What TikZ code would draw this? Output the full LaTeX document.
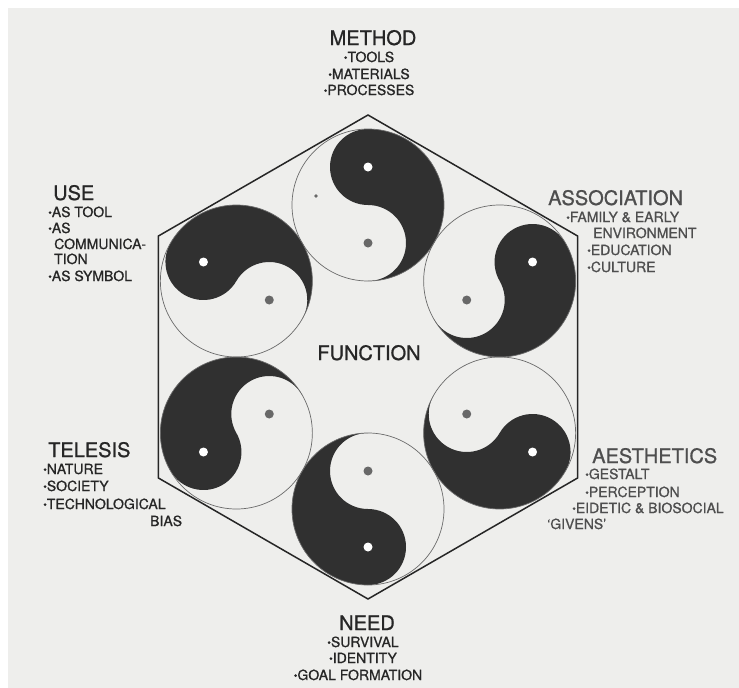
\documentclass[tikz,border=0pt]{standalone}
\usepackage{fontspec}
\setmainfont{TeX Gyre Heros}
\newfontfamily\printfont{TeX Gyre Heros}[FakeBold=0.9]
\usepackage{tikz}
\usepackage{graphicx}
\definecolor{paper}{HTML}{EEEEEC}
\definecolor{ink}{HTML}{262626}
\definecolor{softink}{HTML}{4E4E4E}
\definecolor{yindark}{HTML}{303030}
\definecolor{rimgray}{HTML}{6A6A6A}
\definecolor{dotgray}{HTML}{686868}
\newcommand{\bul}{\raisebox{0.1ex}{\scalebox{0.75}{•}}}

\tikzset{
  title/.style={font=\printfont\fontsize{20}{24}\selectfont, text=ink, inner sep=0pt},
  item/.style={font=\printfont\fontsize{14}{16}\selectfont, text=ink, inner sep=0pt},
  hexline/.style={line width=1.5pt, draw=ink, line join=miter},
  rim/.style={line width=0.7pt, draw=rimgray}
}

\begin{document}
\begin{tikzpicture}[x=1pt, y=1pt]

% ---- paper ----
\fill[white] (0,0) rectangle (739,-688);
\fill[paper] (8,-8) rectangle (739,-688);
\useasboundingbox (0,0) rectangle (739,-688);

\coordinate (cen) at (368,-357);

% ---- hexagon ----
\draw[hexline] ([shift={(90:242pt)}]cen)
  \foreach \a in {30,-30,-90,-150,150} { -- ([shift={(\a:242pt)}]cen) } -- cycle;

% ---- six yin-yang discs, head pointing outwards ----
\foreach \a in {90,30,-30,-90,-150,150} {
  \coordinate (yy\a) at ([shift={(\a:152pt)}]cen);
  \fill[yindark] ([shift={(\a:76pt)}]yy\a)
    arc[start angle=\a, end angle=\a-180, radius=76pt]
    arc[start angle=\a+180, end angle=\a+360, radius=38pt]
    arc[start angle=\a+180, end angle=\a, radius=38pt] -- cycle;
  \draw[rim] (yy\a) circle[radius=76pt];
  \fill[white] ([shift={(\a:38pt)}]yy\a) circle[radius=4.5pt];
  \fill[dotgray] ([shift={({\a+180}:38pt)}]yy\a) circle[radius=4.5pt];
}
% small speck in the top disc
\fill[dotgray] (316,-196) circle[radius=1.8pt];

% ---- centre ----
\node[title, anchor=base] (func) at (369,-360) {FUNCTION};

% ---- Method (top) ----
\node[title, anchor=base] (meth) at (373,-45) {METHOD};
\foreach \lab/\yp [count=\i] in {\bul TOOLS/62, \bul MATERIALS/79, \bul PROCESSES/95}
  \node[item, anchor=base] (meth\i) at (369,-\yp) {\lab};

% ---- Association (upper right) ----
\node[title, text=softink, anchor=base west] (assoc) at (548,-205) {ASSOCIATION};
\foreach \lab/\xp/\yp [count=\i] in {\bul FAMILY \& EARLY/566/222, ENVIRONMENT/593/238,
    \bul EDUCATION/587/255, \bul CULTURE/587/272}
  \node[item, text=softink, anchor=base west] (assoc\i) at (\xp,-\yp) {\lab};

% ---- Aesthetics (lower right) ----
\node[title, text=softink, anchor=base west] (aest) at (592,-463) {AESTHETICS};
\foreach \lab/\xp/\yp [count=\i] in {\bul GESTALT/585/479, \bul PERCEPTION/585/497,
    \bul EIDETIC \& BIOSOCIAL/572/513, ‘GIVENS’/547/529}
  \node[item, text=softink, anchor=base west] (aest\i) at (\xp,-\yp) {\lab};

% ---- Need (bottom) ----
\node[title, anchor=base] (need) at (367,-630) {NEED};
\foreach \lab/\xp/\yp [count=\i] in {\bul SURVIVAL/363/647, \bul IDENTITY/363/663,
    \bul GOAL FORMATION/358/680}
  \node[item, anchor=base] (need\i) at (\xp,-\yp) {\lab};

% ---- Telesis (lower left) ----
\node[title, anchor=base west] (tele) at (48,-457) {TELESIS};
\foreach \lab/\xp/\yp [count=\i] in {\bul NATURE/43/474, \bul SOCIETY/43/491,
    \bul TECHNOLOGICAL/43/509, BIAS/150/526}
  \node[item, anchor=base west] (tele\i) at (\xp,-\yp) {\lab};

% ---- Use (upper left) ----
\node[title, anchor=base west] (use) at (53,-200) {USE};
\foreach \lab/\xp/\yp [count=\i] in {\bul AS TOOL/48/217, \bul AS/48/233,
    COMMUNICA-/54/249, TION/54/264, \bul AS SYMBOL/48/281}
  \node[item, anchor=base west] (use\i) at (\xp,-\yp) {\lab};

\end{tikzpicture}
\end{document}
